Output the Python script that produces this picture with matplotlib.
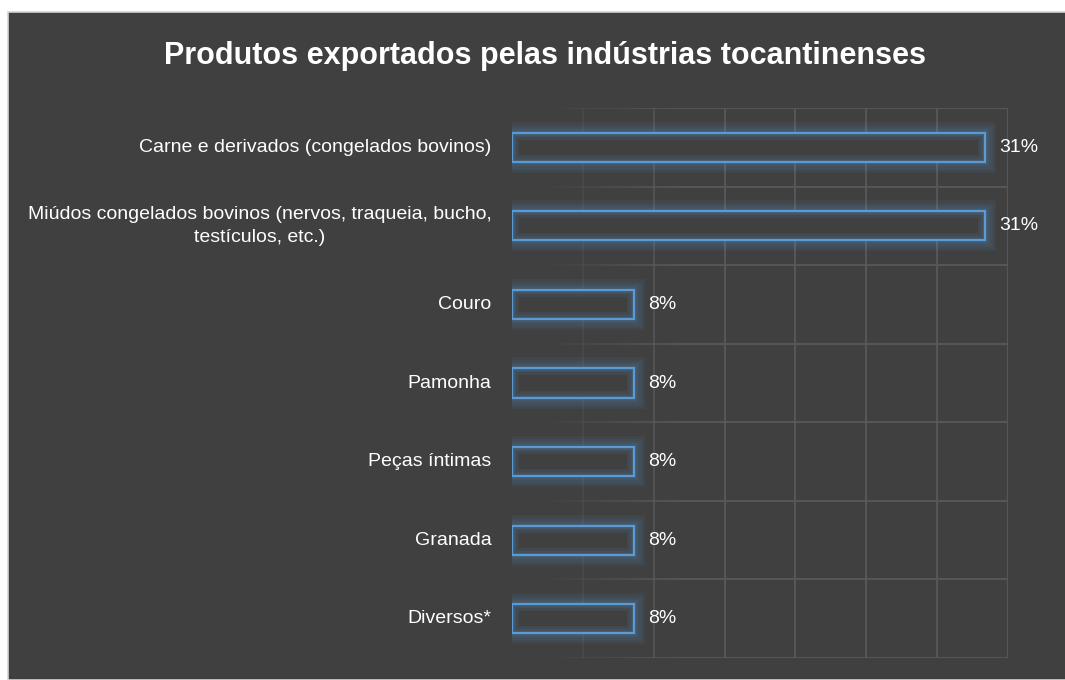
import matplotlib
matplotlib.use("Agg")
import numpy as np
from matplotlib import pyplot as plt
from matplotlib.patches import Rectangle
from matplotlib.collections import LineCollection

# data
categories = ["Carne e derivados (congelados bovinos)",
              "Miúdos congelados bovinos (nervos, traqueia, bucho,\ntestículos, etc.)",
              "Couro", "Pamonha", "Peças íntimas", "Granada", "Diversos*"]
values = [31, 31, 8, 8, 8, 8, 8]
value_labels = ["31%", "31%", "8%", "8%", "8%", "8%", "8%"]
title = "Produtos exportados pelas indústrias tocantinenses"

plt.rcParams['font.family'] = ['Liberation Sans', 'DejaVu Sans']

bg = "#404040"
grid_c = "#595959"
blue = "#5b9bd5"
xmax = 32.5

fig = plt.figure(figsize=(10.65, 6.8), dpi=100, facecolor="white")
fig.patches.append(Rectangle((7.5/1065, 0), 1, (680-11.5)/680, transform=fig.transFigure,
                             facecolor=bg, edgecolor="#d4d4d4", lw=1.2, zorder=-1))

ax = fig.add_axes([512/1065, 1-658/680, (1008-512)/1065, (658-108)/680])
ax.set_facecolor("none")
n = len(categories)
ax.set_xlim(0, xmax)
ax.set_ylim(n-0.5, -0.5)

# grid lines, fading out towards the left
xt = np.linspace(0, xmax, 8)
def fade(x):
    return np.clip((x - xmax*0.05)/(xmax*0.3), 0.0, 1.0)
for x in xt[1:]:
    ax.plot([x, x], [-0.5, n-0.5], color=grid_c, lw=1.3, alpha=float(max(fade(x), 0.25)), zorder=1)
xs = np.linspace(0, xmax, 120)
for yy in np.arange(-0.5, n, 1.0):
    segs = [[(xs[i], yy), (xs[i+1], yy)] for i in range(len(xs)-1)]
    cols = [(0.35, 0.35, 0.35, float(fade(xs[i]))) for i in range(len(xs)-1)]
    ax.add_collection(LineCollection(segs, colors=cols, lw=1.3, zorder=1))

# bars with a soft glow
h = 0.37
for i in range(n):
    for lw in [16, 12, 9, 6, 4]:
        ax.add_patch(Rectangle((0, i-h/2), values[i], h, facecolor="none",
                               edgecolor=blue, lw=lw, alpha=0.07, zorder=2))
    ax.add_patch(Rectangle((0, i-h/2), values[i], h, facecolor=bg, edgecolor="none", zorder=3))
    for lw in [10, 6, 3.5]:
        r = Rectangle((0, i-h/2), values[i], h, facecolor="none", edgecolor=blue,
                      lw=lw, alpha=0.1, zorder=4)
        ax.add_patch(r)
        r.set_clip_path(Rectangle((0, i-h/2), values[i], h, transform=ax.transData))
    ax.add_patch(Rectangle((0, i-h/2), values[i], h, facecolor="none",
                           edgecolor=blue, lw=1.6, zorder=5))
    ax.text(values[i] + 0.9, i, value_labels[i], color="white", fontsize=14,
            va="center", ha="left")

ax.set_xticks([])
ax.set_yticks([])
for s in ax.spines.values():
    s.set_visible(False)

for i, c in enumerate(categories):
    ax.text(-1.35, i, c, color="white", fontsize=14, ha="right", va="center",
            multialignment="center", linespacing=1.5)

fig.text(545/1065, 1-56/680, title, color="white", fontsize=22, fontweight="bold",
         ha="center", va="center")

fig.savefig("out.png", dpi=100, facecolor="white")
